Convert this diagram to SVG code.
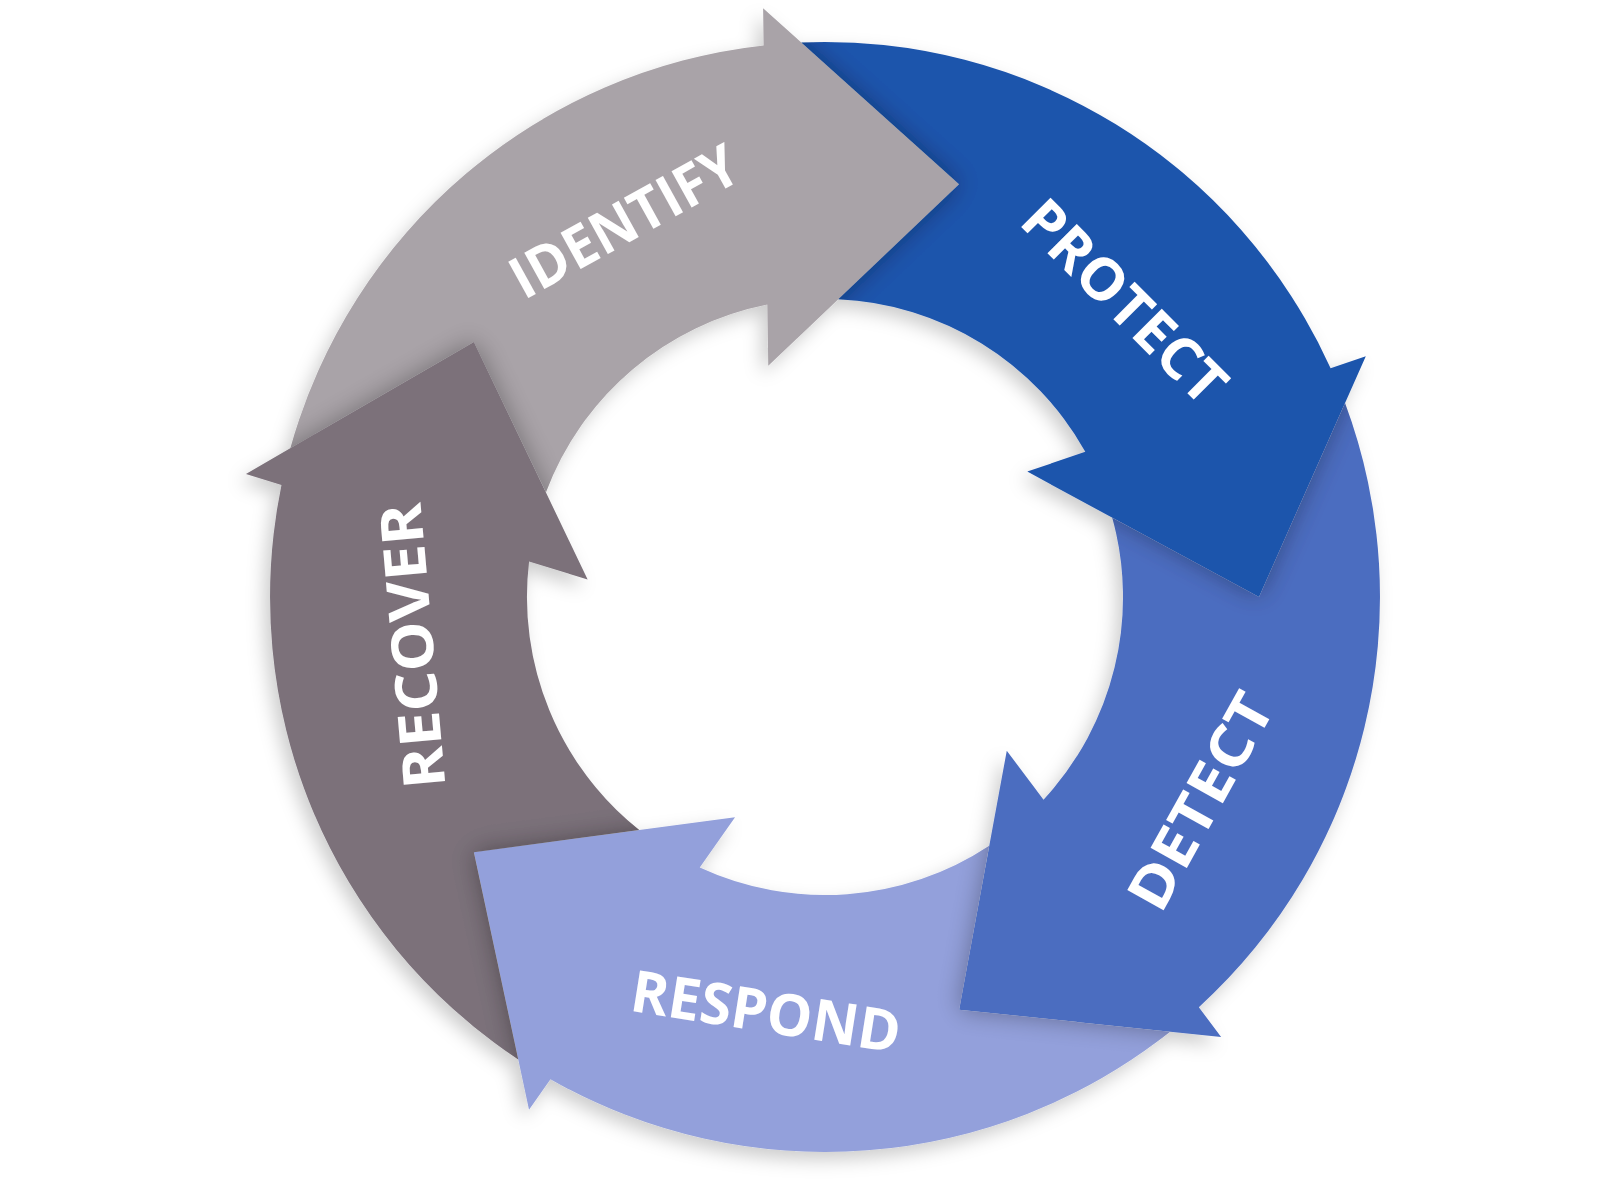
<svg xmlns="http://www.w3.org/2000/svg" xmlns:xlink="http://www.w3.org/1999/xlink" width="1600" height="1200" viewBox="0 0 1600 1200">
<defs>
<style>
.label { font-family: "Open Sans", "Noto Sans", "Liberation Sans", sans-serif; font-weight: 700; font-size: 58px; fill: #ffffff; text-anchor: middle; }
.hs { fill: #000000; opacity: 0.32; }
</style>
<path id="arrow" d="M -23.7 -554.5 A 555 555 0 0 1 505.6 -228.8 L 540.8 -240.8 L 434 0 L 202.3 -125.4 L 260.3 -145.2 A 298 298 0 0 0 13.3 -297.7 L 134.1 -412.8 Z"/>
<path id="head" d="M 540.8 -240.8 L 434 0 L 202.3 -125.4 Z"/>
<clipPath id="arrowClip"><use href="#arrow" xlink:href="#arrow"/></clipPath>
<filter id="blur" x="-50%" y="-50%" width="200%" height="200%"><feGaussianBlur stdDeviation="12"/></filter>
<filter id="drop" x="-10%" y="-10%" width="120%" height="120%">
<feGaussianBlur in="SourceAlpha" stdDeviation="9"/>
<feOffset dx="-6" dy="8" result="b"/>
<feFlood flood-color="#000000" flood-opacity="0.2"/>
<feComposite in2="b" operator="in"/>
<feMerge><feMergeNode/><feMergeNode in="SourceGraphic"/></feMerge>
</filter>
</defs>
<rect width="1600" height="1200" fill="#ffffff"/>
<g id="cycle" filter="url(#drop)">
<g id="node-identify">
<g transform="translate(825 597) rotate(-72)">
<use href="#arrow" xlink:href="#arrow" fill="#A9A3A8"/>
<g clip-path="url(#arrowClip)"><use href="#head" xlink:href="#head" class="hs" transform="rotate(-72)" filter="url(#blur)"/></g>
</g>
<text class="label" transform="translate(624 221) rotate(-29)" y="21" textLength="252" lengthAdjust="spacingAndGlyphs">IDENTIFY</text>
</g>
<g id="node-protect">
<g transform="translate(825 597)">
<use href="#arrow" xlink:href="#arrow" fill="#1D54AC"/>
<g clip-path="url(#arrowClip)"><use href="#head" xlink:href="#head" class="hs" transform="rotate(-72)" filter="url(#blur)"/></g>
</g>
<text class="label" transform="translate(1125 301) rotate(45)" y="21" textLength="262" lengthAdjust="spacingAndGlyphs">PROTECT</text>
</g>
<g id="node-detect">
<g transform="translate(825 597) rotate(72)">
<use href="#arrow" xlink:href="#arrow" fill="#4C6DC0"/>
<g clip-path="url(#arrowClip)"><use href="#head" xlink:href="#head" class="hs" transform="rotate(-72)" filter="url(#blur)"/></g>
</g>
<text class="label" transform="translate(1200 801) rotate(-61)" y="21" textLength="238" lengthAdjust="spacingAndGlyphs">DETECT</text>
</g>
<g id="node-respond">
<g transform="translate(825 597) rotate(144)">
<use href="#arrow" xlink:href="#arrow" fill="#93A0DB"/>
<g clip-path="url(#arrowClip)"><use href="#head" xlink:href="#head" class="hs" transform="rotate(-72)" filter="url(#blur)"/></g>
</g>
<text class="label" transform="translate(766 1011) rotate(9)" y="21" textLength="272" lengthAdjust="spacingAndGlyphs">RESPOND</text>
</g>
<g id="node-recover">
<g transform="translate(825 597) rotate(216)">
<use href="#arrow" xlink:href="#arrow" fill="#7B717A"/>
<g clip-path="url(#arrowClip)"><use href="#head" xlink:href="#head" class="hs" transform="rotate(-72)" filter="url(#blur)"/></g>
</g>
<text class="label" transform="translate(412 646) rotate(-95)" y="21" textLength="286" lengthAdjust="spacingAndGlyphs">RECOVER</text>
</g>
</g>
<g id="connectors"/>
</svg>
